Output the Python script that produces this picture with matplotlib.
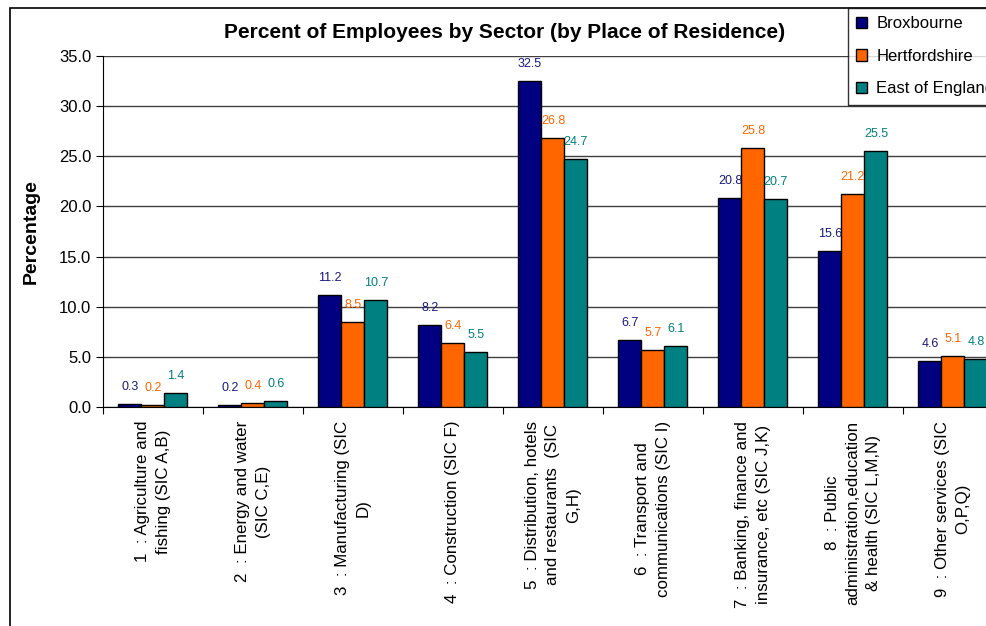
import numpy as np
import matplotlib
matplotlib.use("Agg")
import matplotlib.pyplot as plt
from matplotlib.patches import Patch, Rectangle

plt.rcParams["font.family"] = ["Liberation Sans", "DejaVu Sans"]

# sectores y porcentajes por zona
sectores = [
    "1  : Agriculture and\nfishing (SIC A,B)",
    "2  : Energy and water\n(SIC C,E)",
    "3  : Manufacturing (SIC\nD)",
    "4  : Construction (SIC F)",
    "5  : Distribution, hotels\nand restaurants  (SIC\nG,H)",
    "6  : Transport and\ncommunications (SIC I)",
    "7  : Banking, finance and\ninsurance, etc (SIC J,K)",
    "8  : Public\nadministration,education\n& health (SIC L,M,N)",
    "9  : Other services (SIC\nO,P,Q)",
]
broxbourne = [0.3, 0.2, 11.2, 8.2, 32.5, 6.7, 20.8, 15.6, 4.6]
hertfordshire = [0.2, 0.4, 8.5, 6.4, 26.8, 5.7, 25.8, 21.2, 5.1]
east_england = [1.4, 0.6, 10.7, 5.5, 24.7, 6.1, 20.7, 25.5, 4.8]

series = [
    ("Broxbourne", broxbourne, "#000080", "#1a1a80"),
    ("Hertfordshire", hertfordshire, "#FF6600", "#FF6600"),
    ("East of England", east_england, "#008080", "#008080"),
]

fig = plt.figure(figsize=(9.87, 6.26), dpi=100)
ax = fig.add_axes([103 / 987, 1 - 407 / 626, 900 / 987, 351 / 626])

x = np.arange(len(sectores))
ancho = 0.23
for i, (nombre, valores, color, color_txt) in enumerate(series):
    pos = x + (i - 1) * ancho
    ax.bar(pos, valores, ancho, color=color, edgecolor="black", linewidth=1, zorder=3, label=nombre)
    for px, v in zip(pos, valores):
        ax.annotate(f"{v:.1f}", (px, v), xytext=(0, 11), textcoords="offset pixels",
                    ha="center", va="bottom", fontsize=9, color=color_txt, zorder=4)

# ejes
ax.set_xlim(-0.5, len(sectores) - 0.5)
ax.set_ylim(0, 35)
ax.set_yticks(np.arange(0, 35.1, 5))
ax.set_yticklabels([f"{t:.1f}" for t in np.arange(0, 35.1, 5)], fontsize=12)
ax.yaxis.grid(True, color="#404040", linewidth=1, zorder=0)
ax.set_xticks(np.arange(len(sectores) + 1) - 0.5, minor=False)
ax.set_xticklabels([])
ax.set_xticks(x, minor=True)
ax.set_xticklabels(sectores, minor=True, rotation=90, fontsize=12.2,
                   ha="center", va="top", multialignment="center", linespacing=1.45)
ax.tick_params(axis="x", which="minor", length=0, pad=10)
ax.tick_params(axis="x", which="major", length=5, direction="out")
ax.tick_params(axis="y", length=5, direction="out")
for s in ["top", "right"]:
    ax.spines[s].set_visible(False)
ax.spines["left"].set_color("black")
ax.spines["bottom"].set_color("black")
ax.set_ylabel("Percentage", fontsize=14, fontweight="bold", labelpad=14)

fig.text(505 / 987, 1 - 33 / 626, "Percent of Employees by Sector (by Place of Residence)",
         ha="center", va="center", fontsize=15, fontweight="bold")

# leyenda
handles = [Patch(facecolor=c, edgecolor="black", label=n) for n, _, c, _ in series]
leg = fig.legend(handles=handles, loc="upper left", bbox_to_anchor=(848 / 987, 1 - 8 / 626),
                 fontsize=12, frameon=True, fancybox=False, edgecolor="black",
                 handlelength=0.65, handleheight=0.65, handletextpad=0.55, labelspacing=1.05,
                 borderpad=0.5, borderaxespad=0)
leg.get_frame().set_linewidth(1)

# marco exterior del grafico
fig.patches.append(Rectangle((10 / 987, -0.1), 1.2, 1.1 - 8 / 626, transform=fig.transFigure,
                             fill=False, edgecolor="black", linewidth=1.2))

fig.savefig("out.png", dpi=100)
